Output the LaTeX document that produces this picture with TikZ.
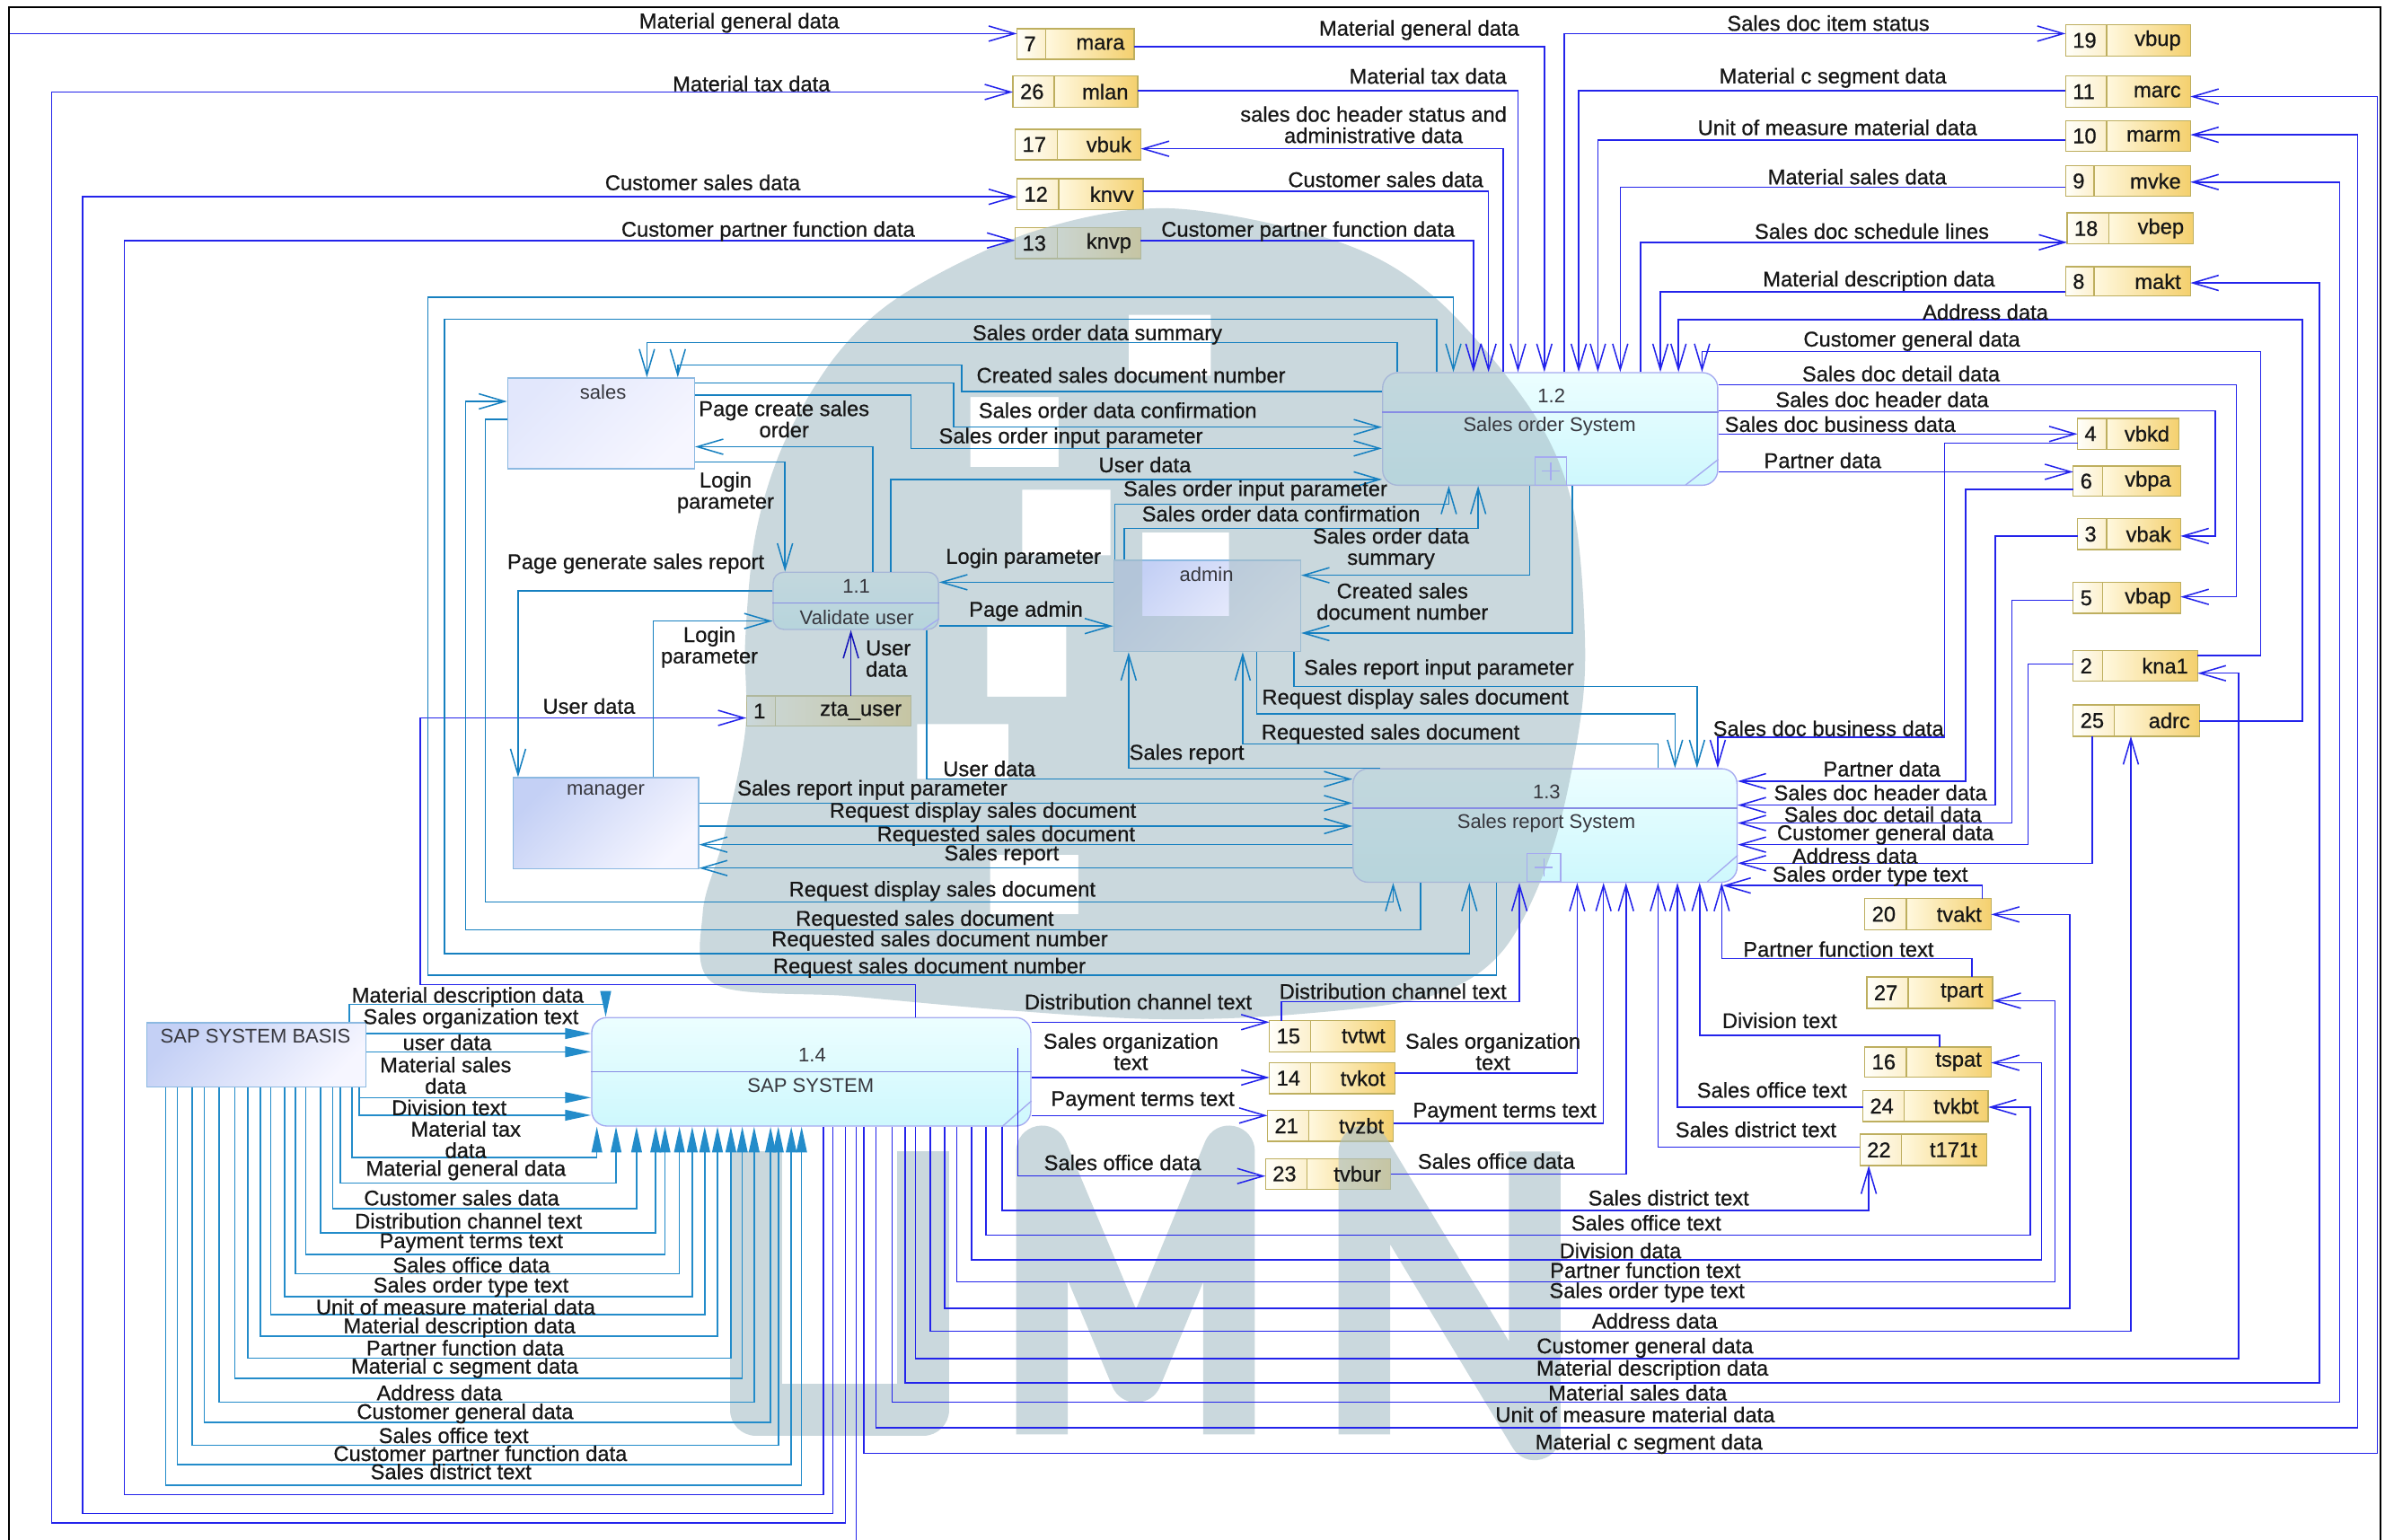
\documentclass[tikz,border=0pt]{standalone}
\usepackage{fontspec}
\setmainfont{Liberation Sans}
\newfontfamily\flowfont{Liberation Sans}[FakeBold=0.6]
\usetikzlibrary{arrows.meta,fit,calc}

\definecolor{wire}{RGB}{35,35,235}
\definecolor{wiredark}{RGB}{20,20,185}
\definecolor{flow}{RGB}{22,128,192}
\definecolor{basisflow}{RGB}{35,140,202}
\definecolor{ink}{RGB}{22,22,22}
\definecolor{boxink}{RGB}{55,55,62}
\definecolor{procline}{RGB}{165,170,240}
\definecolor{procdiv}{RGB}{135,140,228}
\definecolor{proctop}{RGB}{236,254,255}
\definecolor{procbot}{RGB}{206,248,253}
\definecolor{extline}{RGB}{140,185,225}
\definecolor{extA}{RGB}{196,208,245}
\definecolor{extB}{RGB}{246,246,255}
\definecolor{extC}{RGB}{226,231,252}
\definecolor{storeline}{RGB}{190,175,95}
\definecolor{noA}{RGB}{255,255,250}
\definecolor{noB}{RGB}{252,240,205}
\definecolor{tbA}{RGB}{255,248,222}
\definecolor{tbB}{RGB}{244,208,110}
\definecolor{wmark}{RGB}{168,190,199}

% data store: name, x left, y top, x divider, x right, y bottom
\newcommand\dstore[6]{%
  \path[storeno] (#2,#3) rectangle (#4,#6);
  \path[storetb] (#4,#3) rectangle (#5,#6);
  \node[fit={(#2,#3)(#5,#6)}, inner sep=0pt, outer sep=0pt] (#1) {};
}
% data store texts: name, number, table
\newcommand\dstext[3]{%
  \node[lbl, anchor=west] (#1-no) at ([xshift=4.5pt]#1.west) {#2};
  \node[lbl, anchor=east] (#1-tb) at ([xshift=-6pt]#1.east) {#3};
}

\begin{document}
\begin{tikzpicture}[x=1pt,y=-1pt,
  >={Straight Barb[length=17pt,width=10pt]},
  wireln/.style={draw=wire, line width=0.9pt, ->},
  darkln/.style={draw=wiredark, line width=0.9pt, ->},
  flowln/.style={draw=flow, line width=0.9pt, ->},
  basisln/.style={draw=basisflow, line width=0.9pt, -{Triangle[length=17pt,width=7pt]}},
  lbl/.style={font=\flowfont\fontsize{14}{14}\selectfont, text=ink, inner sep=0pt, align=center},
  boxlbl/.style={font=\fontsize{13}{14}\selectfont, text=boxink, inner sep=0pt},
  proc/.style={draw=procline, line width=0.8pt, rounded corners=10pt, top color=proctop, bottom color=procbot, inner sep=0pt},
  ext/.style={draw=extline, line width=0.8pt, top color=extA, bottom color=extB, shading angle=45, inner sep=0pt},
  storeno/.style={draw=storeline, line width=0.8pt, left color=noA, right color=noB},
  storetb/.style={draw=storeline, line width=0.8pt, left color=tbA, right color=tbB},
  deco/.style={draw=procline, line width=0.8pt},
  plusbx/.style={draw=procline, line width=0.7pt, inner sep=0pt},
  logo/.style={wmark, opacity=0.6}
]
\useasboundingbox (0,0) rectangle (1568,1012);
\fill[white] (0,0) rectangle (1568,1012);

% ---------- processes ----------
\node[proc, fit={(909,245)(1129.3,319)}] (p12) {};
\node[proc, fit={(889.5,505.4)(1142,580)}] (p13) {};
\node[proc, rounded corners=7pt, fit={(508.3,376.2)(617,413.8)}] (p11) {};
\node[proc, fit={(389,669)(677.7,740.3)}] (p14) {};

% ---------- external entities ----------
\node[ext, top color=extC, bottom color=extB, shading angle=45, fit={(333.8,248.5)(456.5,308.2)}] (sales) {};
\node[ext, fit={(732.2,368.3)(855,428.4)}] (admin) {};
\node[ext, fit={(337.2,511.3)(459.2,571.2)}] (manager) {};
\node[ext, fit={(96.6,672.5)(240.6,714.6)}] (sapb) {};

% ---------- data stores ----------
\dstore{mara}{668.6}{18.8}{687.5}{745.6}{39}
\dstore{mlan}{666}{50}{693}{748}{70.5}
\dstore{vbuk}{667.5}{85}{695}{750}{105}
\dstore{knvv}{668.6}{117.5}{696}{751.6}{137.8}
\dstore{knvp}{667.5}{149.8}{695}{750}{170}
\dstore{vbup}{1358}{16.3}{1385}{1440}{36.8}
\dstore{marc}{1358}{50}{1385}{1440}{70.5}
\dstore{marm}{1358}{79.3}{1385}{1440}{99.4}
\dstore{mvke}{1358}{109}{1376.8}{1440}{129}
\dstore{vbep}{1359}{140}{1386.5}{1442}{160.4}
\dstore{makt}{1358}{175.3}{1376.8}{1440}{194.7}
\dstore{vbkd}{1365.8}{275}{1385}{1432.5}{295.3}
\dstore{vbpa}{1363}{306.4}{1382.3}{1433.5}{326.2}
\dstore{vbak}{1365.8}{341}{1385}{1433.5}{361.3}
\dstore{vbap}{1363}{383}{1382.3}{1433.5}{403.3}
\dstore{kna1}{1363}{427.7}{1382.3}{1444.8}{447.8}
\dstore{adrc}{1363}{463.4}{1390}{1446}{484}
\dstore{tvakt}{1226}{590.8}{1253.3}{1309}{611.2}
\dstore{tpart}{1227.3}{642.3}{1254.5}{1310}{663}
\dstore{tspat}{1226}{688.3}{1253.3}{1309}{708}
\dstore{tvkbt}{1224.7}{717}{1251.7}{1307}{737.3}
\dstore{t171t}{1222.8}{745.6}{1250}{1306}{766.3}
\dstore{tvtwt}{834.6}{671}{861.7}{917}{691.5}
\dstore{tvkot}{834.6}{698.7}{861.7}{917}{719}
\dstore{tvzbt}{833.3}{730}{860.3}{916}{750.3}
\dstore{tvbur}{832}{761.7}{859.4}{914.2}{781.8}
\dstore{zta}{490.7}{457.5}{509.7}{599}{477.4}

% ---------- background logo ----------
\fill[logo, even odd rule]
  plot[smooth cycle, tension=0.55] coordinates {(770,137) (880,159) (945,197) (1007,270) (1034,333) (1042,420) (1038,480) (1020,560) (988,625) (940,655) (850,667) (760,670) (660,664) (560,655) (470,647) (462,600) (476,550) (490,480) (490,420) (497,350) (516,290) (551,232) (596,192) (680,152)}
  (742,207) rectangle (796,247)
  (638,261) rectangle (696,307)
  (672,322) rectangle (730,365)
  (751,350) rectangle (808,405)
  (649,411) rectangle (701,458)
  (603,476) rectangle (663,512)
  (651,562) rectangle (709,601);
\draw[logo, line width=34pt, line join=round] (497,757) -- (497,927) -- (607,927) -- (607,757);
\draw[logo, line width=34pt, line join=round] (685,943) -- (685,757) -- (747,905) -- (808,757) -- (808,943);
\draw[logo, line width=34pt, line join=round] (897,943) -- (897,757) -- (1009,943) -- (1009,757);

% ---------- process details ----------
\draw[draw=procdiv, line width=0.8pt] (p12.west |- 0,271) -- (p12.east |- 0,271);
\draw[draw=procdiv, line width=0.8pt] (p13.west |- 0,531.4) -- (p13.east |- 0,531.4);
\draw[draw=procdiv, line width=0.8pt] (p11.west |- 0,396.3) -- (p11.east |- 0,396.3);
\draw[draw=procdiv, line width=0.8pt] (p14.west |- 0,704.4) -- (p14.east |- 0,704.4);
\draw[deco] ($(p12.south east)+(-21.6,-0.5)$) -- ($(p12.south east)+(0,-17.4)$);
\draw[deco] ($(p13.south east)+(-20,-0.7)$) -- ($(p13.south east)+(0,-18.1)$);
\draw[deco] ($(p11.south east)+(-10.5,-0.3)$) -- ($(p11.south east)+(0,-7.4)$);
\draw[deco] ($(p14.south east)+(-19.3,0)$) -- ($(p14.south east)+(0,-16.9)$);
\node[plusbx, fit={(1009,300.5)(1030,319)}] (p12plus) {};
\node[plusbx, fit={(1004,561)(1026,579.5)}] (p13plus) {};
\draw[deco] ($(p12plus.center)+(-6,0)$) -- ($(p12plus.center)+(6,0)$) ($(p12plus.center)+(0,-6)$) -- ($(p12plus.center)+(0,6)$);
\draw[deco] ($(p13plus.center)+(-6,0)$) -- ($(p13plus.center)+(6,0)$) ($(p13plus.center)+(0,-6)$) -- ($(p13plus.center)+(0,6)$);

% ---------- SAP SYSTEM outer loops ----------
\draw[wireln] (p14.south -| 562.8,0) -- (562.8,1016) -- (6.1,1016) -- (6.1,22.1) -- (mara.west |- 0,22.1);
\draw[wireln] (p14.south -| 555.7,0) |- (33.9,1001.2) |- (mlan.west |- 0,60.5);
\draw[wireln] (p14.south -| 547.6,0) |- (54.2,995) |- (knvv.west |- 0,129.4);
\draw[wireln] (p14.south -| 541.4,0) |- (81.7,982.7) |- (knvp.west |- 0,158.1);

% ---------- stores and Sales order System ----------
\draw[wireln] (mara.east |- 0,30.7) -| (p12.north -| 1015.3,0);
\draw[wireln] (mlan.east |- 0,59.6) -| (p12.north -| 998,0);
\draw[wireln] (p12.north -| 988.1,0) |- (vbuk.east |- 0,97.8);
\draw[wireln] (knvv.east |- 0,125.6) -| (p12.north -| 978.6,0);
\draw[wireln] (knvp.east |- 0,158.1) -| (p12.north -| 968.7,0);
\draw[wireln] (p12.north -| 1028.3,0) |- (vbup.west |- 0,22.1);
\draw[wireln] (marc.west |- 0,59.6) -| (p12.north -| 1037.9,0);
\draw[wireln] (marm.west |- 0,92) -| (p12.north -| 1050.5,0);
\draw[wireln] (mvke.west |- 0,123.1) -| (p12.north -| 1065.2,0);
\draw[wireln] (p12.north -| 1078.7,0) |- (vbep.west |- 0,159.3);
\draw[wireln] (makt.west |- 0,191.8) -| (p12.north -| 1091.6,0);
\draw[wireln] (adrc.east |- 0,474) -| (1513.7,210.1) -| (p12.north -| 1103.5,0);
\draw[wireln] (kna1.east |- 0,430.9) -| (1486.3,231.1) -| (p12.north -| 1119,0);
\draw[wireln] (p12.east |- 0,253) -| (1470.2,392.4) -- (vbap.east |- 0,392.4);
\draw[wireln] (p12.east |- 0,270) -| (1456.3,352.4) -- (vbak.east |- 0,352.4);
\draw[wireln] (p12.east |- 0,285.3) -- (vbkd.west |- 0,285.3);
\draw[wireln] (p12.east |- 0,310.2) -- (vbpa.west |- 0,310.2);

% ---------- stores and Sales report System ----------
\draw[wireln] (vbkd.west |- 0,291.4) -| (1278.5,484.6) -| (p13.north -| 1129.3,0);
\draw[wireln] (vbpa.west |- 0,321.7) -| (1292.3,513.6) -- (p13.east |- 0,513.6);
\draw[wireln] (vbak.west |- 0,352.4) -| (1311.7,529.3) -- (p13.east |- 0,529.3);
\draw[wireln] (vbap.west |- 0,394.7) -| (1322.6,541.1) -- (p13.east |- 0,541.1);
\draw[wireln] (kna1.west |- 0,436.5) -| (1333.3,555.3) -- (p13.east |- 0,555.3);
\draw[wireln] (adrc.south -| 1375.5,0) |- (p13.east |- 0,567.5);
\draw[wireln] (tvakt.north -| 1303.3,0) |- ($(p13.south east)+(-10,1.8)$);
\draw[wireln] (tpart.north -| 1296.5,0) |- (1131.9,630.1) -- (p13.south -| 1131.9,0);
\draw[wireln] (tspat.north -| 1275.3,0) |- (1117.4,680.6) -- (p13.south -| 1117.4,0);
\draw[wireln] (tvkbt.west |- 0,727.9) -| (p13.south -| 1102.8,0);
\draw[wireln] (t171t.west |- 0,754.2) -| (p13.south -| 1090,0);
\draw[wireln] (tvtwt.north -| 842.4,0) |- (998.9,658.6) -- (p13.south -| 998.9,0);
\draw[wireln] (tvkot.east |- 0,705.6) -| (p13.south -| 1036.9,0);
\draw[wireln] (tvzbt.east |- 0,738.5) -| (p13.south -| 1054.2,0);
\draw[wireln] (tvbur.east |- 0,772) -| (p13.south -| 1069,0);

% ---------- SAP SYSTEM to stores ----------
\coordinate (p14tap) at (669.2,689);
\draw[wireln] (p14.east |- 0,672) -- (tvtwt.west |- 0,672);
\draw[wireln] (p14.east |- 0,708.4) -- (tvkot.west |- 0,708.4);
\draw[wireln] (p14.east |- 0,733.4) -- (tvzbt.west |- 0,733.4);
\draw[wireln] (p14tap) |- (tvbur.west |- 0,773.2);
\draw[wireln] (p14.south -| 658.7,0) |- (1228.6,795.8) -- (t171t.south -| 1228.6,0);
\draw[wireln] (p14.south -| 648.2,0) |- (1334.8,811.9) |- (tvkbt.east |- 0,727.9);
\draw[wireln] (p14.south -| 638.7,0) |- (1342.3,828.2) |- (tspat.east |- 0,698.7);
\draw[wireln] (p14.south -| 628.9,0) |- (1351,842.7) |- (tpart.east |- 0,657.9);
\draw[wireln] (p14.south -| 621,0) |- (1360.7,860) |- (tvakt.east |- 0,601.2);
\draw[wireln] (p14.south -| 611.6,0) |- (1400.9,875.1) -- (adrc.south -| 1400.9,0);
\draw[wireln] (p14.south -| 601.8,0) |- (1471.8,893.2) |- (kna1.east |- 0,442.6);
\draw[wireln] (p14.south -| 595,0) |- (1525,909.1) |- (makt.east |- 0,186);
\draw[wireln] (p14.south -| 586.5,0) |- (1538.2,921.9) |- (mvke.east |- 0,119.7);
\draw[wireln] (p14.south -| 576,0) |- (1550.1,938.8) |- (marm.east |- 0,88.6);
\draw[wireln] (p14.south -| 567.9,0) |- (1563,955.6) |- (marc.east |- 0,63.5);
\draw[wireln] (p14.north -| 601.8,0) |- (276.2,647.3) |- (zta.west |- 0,472);
\draw[darkln] (zta.north -| 559.4,0) -- (p11.south -| 559.4,0);

% ---------- user interface flows ----------
\draw[flowln] (p13.south -| 983.7,0) |- (281.3,641) |- (955.5,195.4) -- (p12.north -| 955.5,0);
\draw[flowln] (p12.north -| 944.7,0) |- (292.1,210) |- (966,627) -- (p13.south -| 966,0);
\draw[flowln] (p12.north -| 918.6,0) |- (425.3,225.2) -- (sales.north -| 425.3,0);
\draw[flowln] (p12.west |- 0,257.5) -| (632.2,240) -| (sales.north -| 445.6,0);
\draw[flowln] (sales.east |- 0,251.9) -| (626.9,280.8) -- (p12.west |- 0,280.8);
\draw[flowln] (sales.east |- 0,259.8) -| (599,294.8) -- (p12.west |- 0,294.8);
\draw[flowln] (p11.north -| 573.7,0) |- (sales.east |- 0,293.7);
\draw[flowln] (sales.east |- 0,303.8) -| (p11.north -| 516.1,0);
\draw[flowln] (p11.north -| 585.5,0) |- (p12.west |- 0,315.2);
\draw[flowln] (admin.north -| 733,0) |- (952.5,331.5) -- (p12.south -| 952.5,0);
\draw[flowln] (admin.north -| 739,0) |- (971.8,347.3) -- (p12.south -| 971.8,0);
\draw[flowln] (p12.south -| 1005.7,0) |- (admin.east |- 0,378.2);
\draw[flowln] (p12.south -| 1033.8,0) |- (admin.east |- 0,416.2);
\draw[flowln] (admin.west |- 0,382.8) -- (p11.east |- 0,382.8);
\draw[flowln] (p11.east |- 0,411.6) -- (admin.west |- 0,411.6);
\draw[flowln] (p13.north -| 907.4,0) -| (admin.south -| 742,0);
\draw[flowln] (admin.south -| 826.1,0) |- (1101.2,469.3) -- (p13.north -| 1101.2,0);
\draw[flowln] (admin.south -| 850.8,0) |- (1115.7,451.2) -- (p13.north -| 1115.7,0);
\draw[flowln] (p13.north -| 1090,0) |- (817,489.1) -- (admin.south -| 817,0);
\draw[flowln] (p11.south -| 609.2,0) |- (p13.west |- 0,512.2);
\draw[flowln] (manager.east |- 0,528) -- (p13.west |- 0,528);
\draw[flowln] (manager.east |- 0,543.1) -- (p13.west |- 0,543.1);
\draw[flowln] (p13.west |- 0,555.3) -- (manager.east |- 0,555.3);
\draw[flowln] (p13.west |- 0,570.7) -- (manager.east |- 0,570.7);
\draw[flowln] (sales.west |- 0,275.6) -| (319.2,593) -| (p13.south -| 915.9,0);
\draw[flowln] (p13.south -| 934,0) |- (306,611.2) |- (sales.west |- 0,263.9);
\draw[flowln] (p11.west |- 0,388.6) -| (manager.north -| 340.6,0);
\draw[flowln] (manager.north -| 429.4,0) |- (p11.west |- 0,408.3);

% ---------- SAP SYSTEM BASIS to SAP SYSTEM ----------
\draw[basisln] (sapb.north -| 229.8,0) |- (398.2,660.2) -- (p14.north -| 398.2,0);
\draw[basisln] (sapb.east |- 0,679.5) -- (p14.west |- 0,679.5);
\draw[basisln] (sapb.east |- 0,691.5) -- (p14.west |- 0,691.5);
\draw[basisln] (sapb.south -| 236.2,0) |- (p14.west |- 0,721.6);
\draw[basisln] (sapb.south -| 236.2,0) |- (p14.west |- 0,733.2);
\foreach \sx/\sy/\ex [count=\k] in {231.4/760.9/392.4, 223.7/777.8/405, 218.6/794.7/418.5, 210.8/810.7/431.1, 201/824.8/437.2, 194.2/837.5/446.7, 187/852.6/455.1, 177.9/864.2/463.3, 171.2/878.5/471.7, 163/892.9/480.5, 154.5/906.3/488, 144/921.9/495.8, 134.2/935.2/506.6, 126.4/950.3/511.7, 116.6/963/520.2, 108.8/976.4/527}
  \draw[basisln] (sapb.south -| \sx,0) |- (\ex,\sy) -- (p14.south -| \ex,0);

% ---------- box texts ----------
\node[boxlbl] (sales-t) at (396.5,257.5) {sales};
\node[boxlbl] (admin-t) at (793.2,377.8) {admin};
\node[boxlbl] (manager-t) at (398.2,520.9) {manager};
\node[boxlbl] (sapb-t) at (168,681.2) {SAP SYSTEM BASIS};
\node[boxlbl] (p12-no) at (1020,260.1) {1.2};
\node[boxlbl] (p12-t) at (1018.7,280.3) {Sales order System};
\node[boxlbl] (p13-no) at (1016.8,520.9) {1.3};
\node[boxlbl] (p13-t) at (1016.6,541.1) {Sales report System};
\node[boxlbl] (p11-no) at (563,385.3) {1.1};
\node[boxlbl] (p11-t) at (563.3,405.8) {Validate user};
\node[boxlbl] (p14-no) at (534,693.8) {1.4};
\node[boxlbl] (p14-t) at (533,713.7) {SAP SYSTEM};

\dstext{mara}{7}{mara}
\dstext{mlan}{26}{mlan}
\dstext{vbuk}{17}{vbuk}
\dstext{knvv}{12}{knvv}
\dstext{knvp}{13}{knvp}
\dstext{vbup}{19}{vbup}
\dstext{marc}{11}{marc}
\dstext{marm}{10}{marm}
\dstext{mvke}{9}{mvke}
\dstext{vbep}{18}{vbep}
\dstext{makt}{8}{makt}
\dstext{vbkd}{4}{vbkd}
\dstext{vbpa}{6}{vbpa}
\dstext{vbak}{3}{vbak}
\dstext{vbap}{5}{vbap}
\dstext{kna1}{2}{kna1}
\dstext{adrc}{25}{adrc}
\dstext{tvakt}{20}{tvakt}
\dstext{tpart}{27}{tpart}
\dstext{tspat}{16}{tspat}
\dstext{tvkbt}{24}{tvkbt}
\dstext{t171t}{22}{t171t}
\dstext{tvtwt}{15}{tvtwt}
\dstext{tvkot}{14}{tvkot}
\dstext{tvzbt}{21}{tvzbt}
\dstext{tvbur}{23}{tvbur}
\dstext{zta}{1}{zta\_user}

% ---------- flow labels ----------
\node[lbl] (lt1) at (486,15) {Material general data};
\node[lbl] (lt2) at (494,55) {Material tax data};
\node[lbl] (lt3) at (462,120) {Customer sales data};
\node[lbl] (lt4) at (505,152) {Customer partner function data};
\node[lbl] (lt5) at (933,19.8) {Material general data};
\node[lbl] (lt6) at (938.8,50) {Material tax data};
\node[lbl] (lt7) at (903,82) {sales doc header status and\\administrative data};
\node[lbl] (lt8) at (911,118) {Customer sales data};
\node[lbl] (lt9) at (860,152) {Customer partner function data};
\node[lbl] (lt10) at (1202,15.2) {Sales doc item status};
\node[lbl] (lt11) at (1205,51.2) {Material c segment data};
\node[lbl] (lt12) at (1208,83.8) {Unit of measure material data};
\node[lbl] (lt13) at (1221,116.2) {Material sales data};
\node[lbl] (lt14) at (1230.6,152) {Sales doc schedule lines};
\node[lbl] (lt15) at (1235.3,184.7) {Material description data};
\node[lbl] (lt16) at (1305.3,205.1) {Address data};
\node[lbl] (lt17) at (1256.9,224.2) {Customer general data};
\node[lbl] (lt18) at (1249.8,245.7) {Sales doc detail data};
\node[lbl] (lt19) at (1237.4,262.6) {Sales doc header data};
\node[lbl] (lt20) at (1209.8,278.9) {Sales doc business data};
\node[lbl] (lt21) at (1198.3,302.7) {Partner data};

\node[lbl] (lm1) at (721.4,220) {Sales order data summary};
\node[lbl] (lm2) at (743.6,246.6) {Created sales document number};
\node[lbl] (lm3) at (734.8,269.7) {Sales order data confirmation};
\node[lbl] (lm4) at (704,287.8) {Sales order input parameter};
\node[lbl] (lm5) at (752.7,305.5) {User data};
\node[lbl] (lm6) at (515.5,275.5) {Page create sales\\order};
\node[lbl] (lm7) at (477,323.8) {Login\\parameter};
\node[lbl] (lm8) at (825.3,322.5) {Sales order input parameter};
\node[lbl] (lm9) at (842.2,337.7) {Sales order data confirmation};
\node[lbl] (lm10) at (914.5,360.7) {Sales order data\\summary};
\node[lbl] (lm11) at (922,395.4) {Created sales\\document number};
\node[lbl] (lm12) at (672.8,367) {Login parameter};
\node[lbl] (lm13) at (674.5,401.8) {Page admin};
\node[lbl, anchor=west, align=left] (lm14) at (569,433.1) {User\\data};
\node[lbl] (lm15) at (418,370.5) {Page generate sales report};
\node[lbl] (lm16) at (466.4,425.5) {Login\\parameter};
\node[lbl] (lm17) at (387.2,464.2) {User data};
\node[lbl] (lm18) at (946,440) {Sales report input parameter};
\node[lbl] (lm19) at (930.5,459.5) {Request display sales document};
\node[lbl] (lm20) at (914.2,482.5) {Requested sales document};
\node[lbl] (lm21) at (780.2,495.8) {Sales report};
\node[lbl] (lm22) at (650.4,505.3) {User data};
\node[lbl] (lm23) at (573.5,519.3) {Sales report input parameter};
\node[lbl] (lm24) at (646.2,534) {Request display sales document};
\node[lbl] (lm25) at (661.4,549.5) {Requested sales document};
\node[lbl] (lm26) at (658.5,562) {Sales report};
\node[lbl] (lm27) at (619.5,585.8) {Request display sales document};
\node[lbl] (lm28) at (608,605) {Requested sales document};
\node[lbl] (lm29) at (617.8,618.5) {Requested sales document number};
\node[lbl] (lm30) at (611,636.3) {Request sales document number};

\node[lbl] (lr1) at (1202.1,478.9) {Sales doc business data};
\node[lbl] (lr2) at (1237.2,505.4) {Partner data};
\node[lbl] (lr3) at (1236.3,521.1) {Sales doc header data};
\node[lbl] (lr4) at (1237.9,535.4) {Sales doc detail data};
\node[lbl] (lr5) at (1239.5,548.7) {Customer general data};
\node[lbl] (lr6) at (1219.5,562.7) {Address data};
\node[lbl] (lr7) at (1229.5,576) {Sales order type text};
\node[lbl] (lr8) at (1208.7,624) {Partner function text};
\node[lbl] (lr9) at (1170,670.9) {Division text};
\node[lbl] (lr10) at (1164.9,716.6) {Sales office text};
\node[lbl] (lr11) at (1154.4,742.6) {Sales district text};

\node[lbl] (lb1) at (748.3,658.6) {Distribution channel text};
\node[lbl] (lb2) at (915.8,651.7) {Distribution channel text};
\node[lbl] (lb3) at (743.5,691.4) {Sales organization\\text};
\node[lbl] (lb4) at (981.5,691.4) {Sales organization\\text};
\node[lbl] (lb5) at (751.3,723.7) {Payment terms text};
\node[lbl] (lb6) at (989.2,731.3) {Payment terms text};
\node[lbl] (lb7) at (738,764.3) {Sales office data};
\node[lbl] (lb8) at (983.7,763.4) {Sales office data};
\node[lbl] (lb9) at (1097,787.5) {Sales district text};
\node[lbl] (lb10) at (1082.3,803.9) {Sales office text};
\node[lbl] (lb11) at (1065.3,822.2) {Division data};
\node[lbl] (lb12) at (1081.7,835.1) {Partner function text};
\node[lbl] (lb13) at (1082.8,849.7) {Sales order type text};
\node[lbl] (lb14) at (1087.9,868.4) {Address data};
\node[lbl] (lb15) at (1081.5,886.1) {Customer general data};
\node[lbl] (lb16) at (1086.3,900.7) {Material description data};
\node[lbl] (lb17) at (1076.6,915.6) {Material sales data};
\node[lbl] (lb18) at (1075,930) {Unit of measure material data};
\node[lbl] (lb19) at (1084.1,949.3) {Material c segment data};

\node[lbl] (ls1) at (307.5,655.5) {Material description data};
\node[lbl] (ls2) at (309.6,669.6) {Sales organization text};
\node[lbl] (ls3) at (294,685.3) {user data};
\node[lbl] (ls4) at (293,707) {Material sales\\data};
\node[lbl] (ls5) at (295.3,728.1) {Division text};
\node[lbl] (ls6) at (306.2,749.2) {Material tax\\data};
\node[lbl] (ls7) at (306.3,769.4) {Material general data};
\node[lbl] (ls8) at (303.5,787.5) {Customer sales data};
\node[lbl] (ls9) at (308,802.7) {Distribution channel text};
\node[lbl] (ls10) at (309.8,817.2) {Payment terms text};
\node[lbl] (ls11) at (309.9,831.6) {Sales office data};
\node[lbl] (ls12) at (309.6,846.1) {Sales order type text};
\node[lbl] (ls13) at (299.6,859.2) {Unit of measure material data};
\node[lbl] (ls14) at (302.1,872.9) {Material description data};
\node[lbl] (ls15) at (305.8,886.1) {Partner function data};
\node[lbl] (ls16) at (305.5,899.4) {Material c segment data};
\node[lbl] (ls17) at (288.9,915.6) {Address data};
\node[lbl] (ls18) at (305.8,929.3) {Customer general data};
\node[lbl] (ls19) at (298.2,943.7) {Sales office text};
\node[lbl] (ls20) at (315.8,956.9) {Customer partner function data};
\node[lbl] (ls21) at (296.5,967.5) {Sales district text};

% ---------- outer frame ----------
\draw[black, line width=1.2pt] (6.1,1016) -- (6.1,4.5) -- (1565.3,4.5) -- (1565.3,1016);
\end{tikzpicture}
\end{document}
